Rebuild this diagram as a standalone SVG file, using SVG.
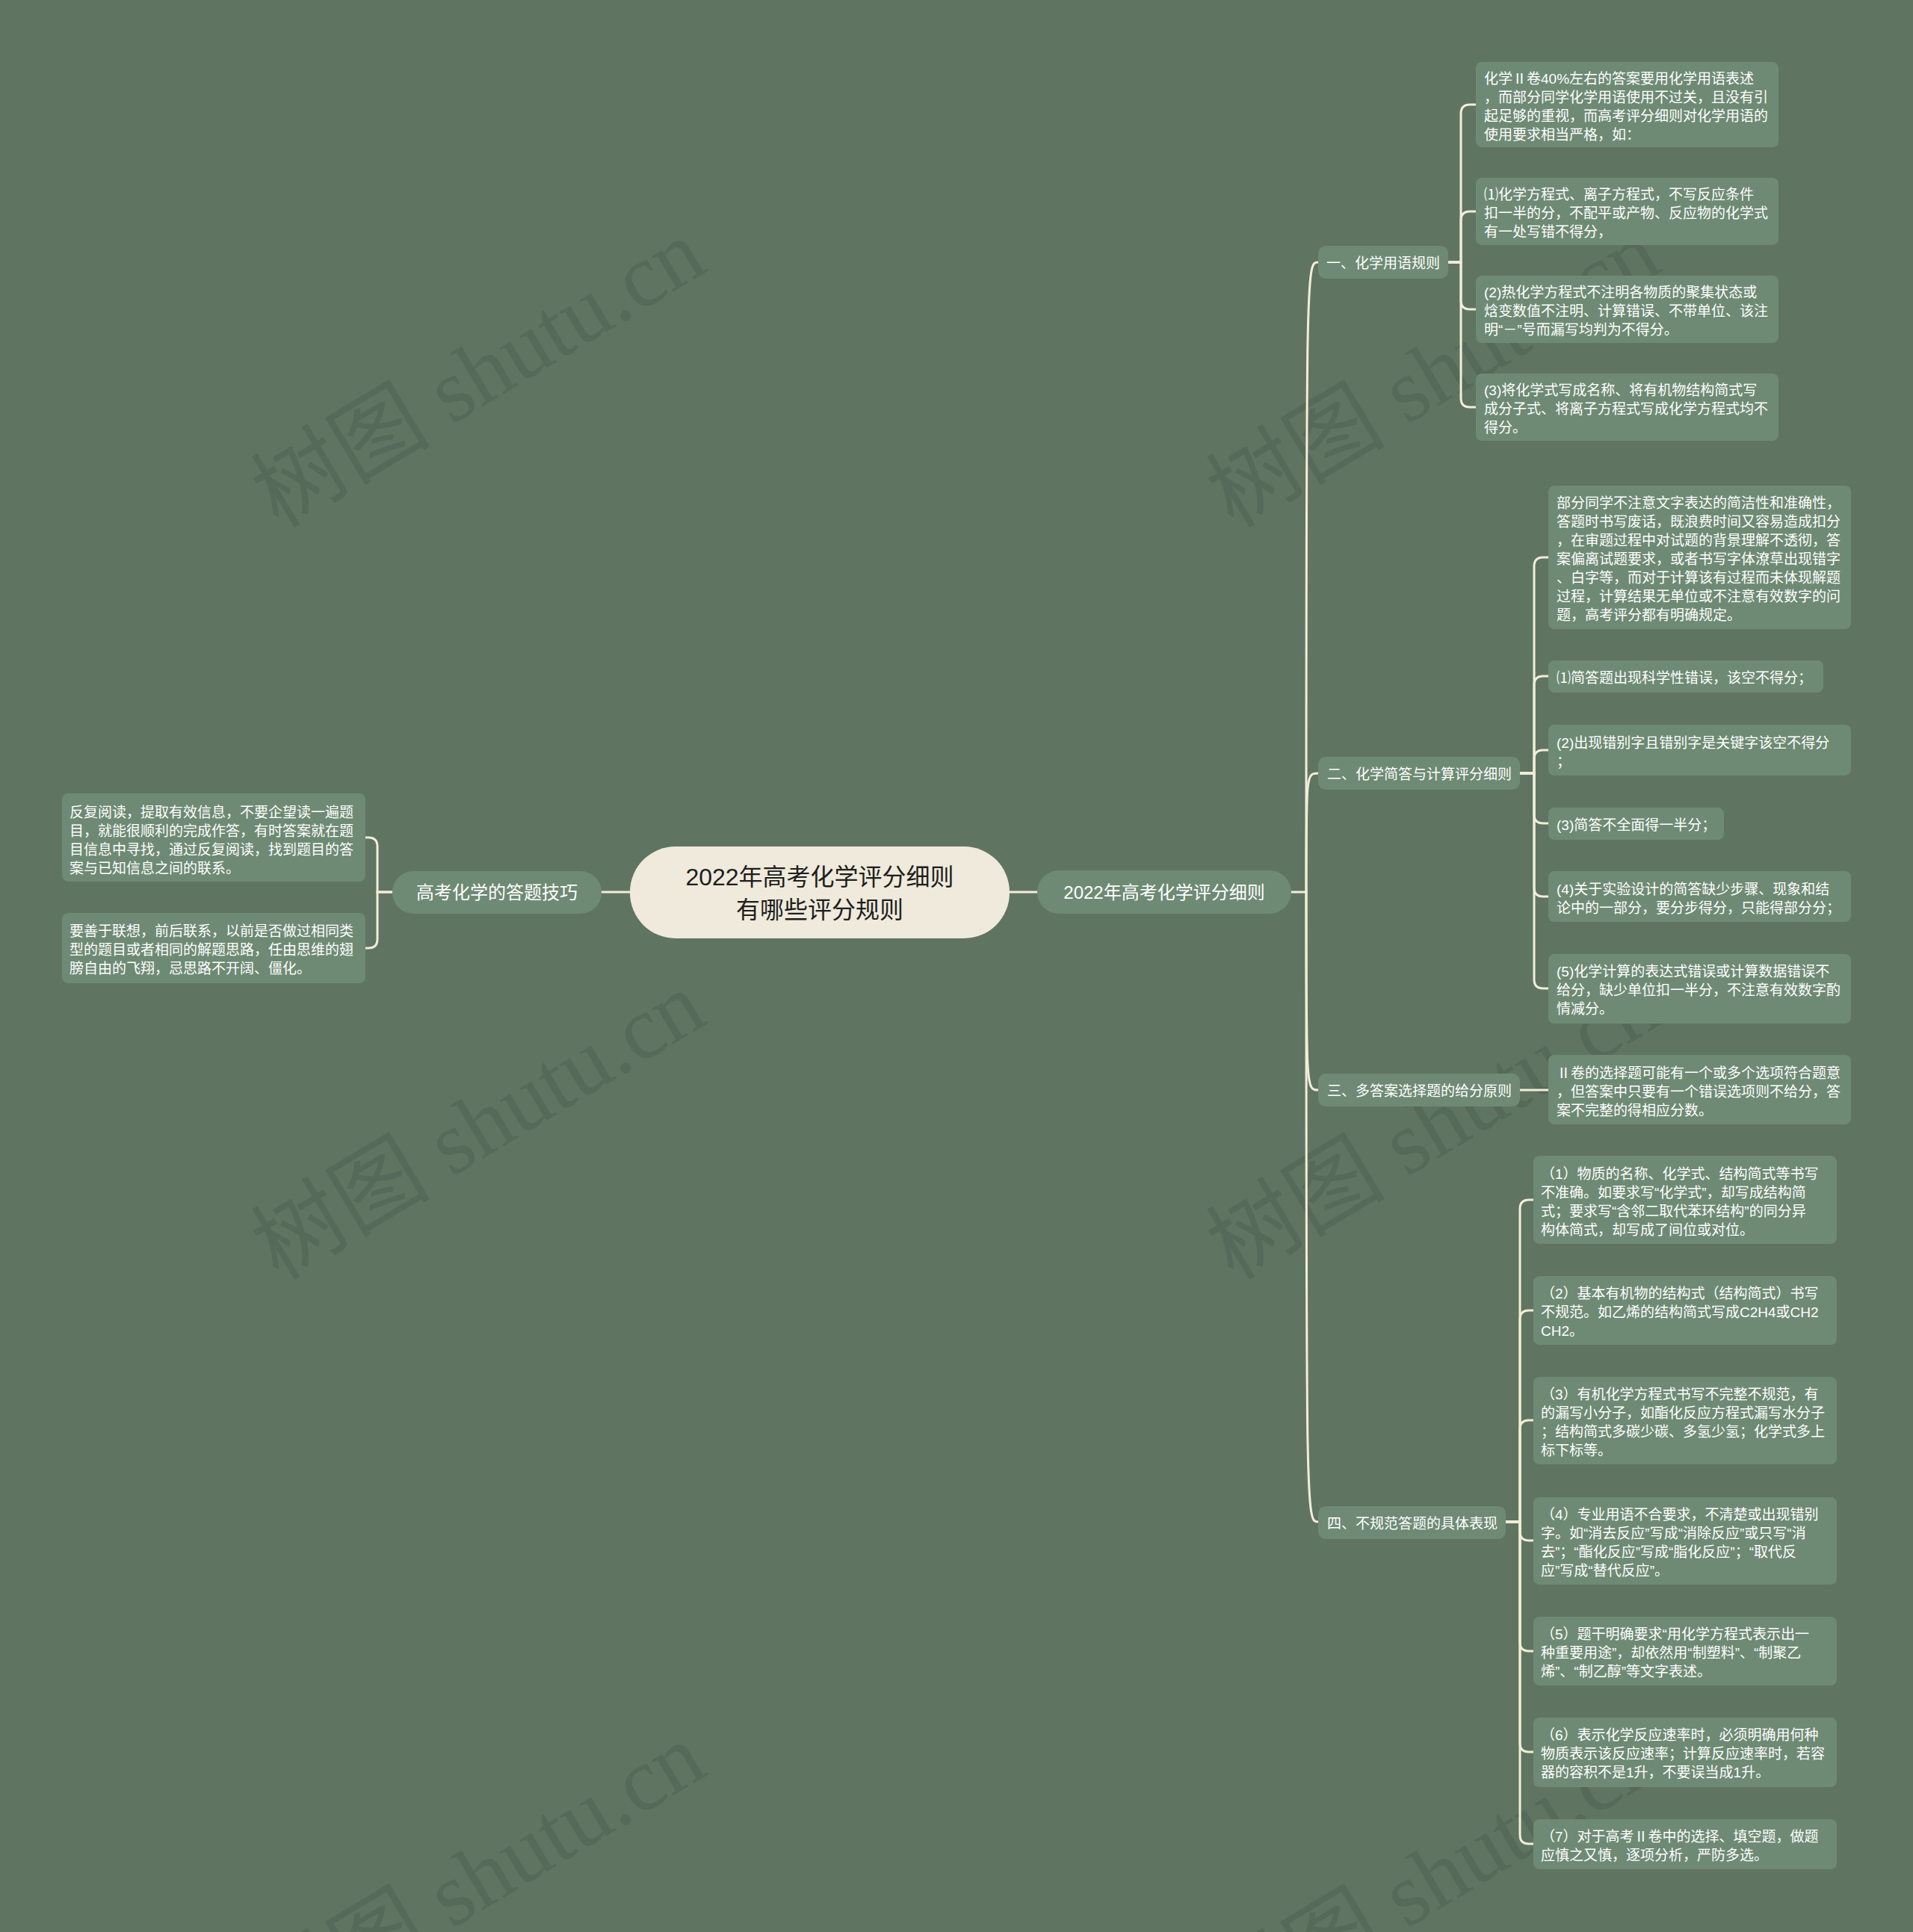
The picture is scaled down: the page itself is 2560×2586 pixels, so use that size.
<svg xmlns="http://www.w3.org/2000/svg" width="2560" height="2586" viewBox="0 0 2560 2586">
<style>
.bg{fill:#607462}
.wm{font-family:"Liberation Serif","Noto Sans CJK SC",serif;font-size:120px;fill:#566a59}
.box{fill:#6e8a74}
.t{font-family:"Liberation Sans","Noto Sans CJK SC",sans-serif;font-size:19px;fill:#ffffff}
.t2{font-family:"Liberation Sans","Noto Sans CJK SC",sans-serif;font-size:24px;fill:#ffffff}
.tc{font-family:"Liberation Sans","Noto Sans CJK SC",sans-serif;font-size:32px;fill:#1e1e1e}
.ln{fill:none;stroke:#f2edd8;stroke-width:3;stroke-linecap:round}
</style>
<rect class="bg" x="0" y="0" width="2560" height="2586"/>
<g id="watermarks">
<text class="wm" transform="translate(647,511) rotate(-31)" text-anchor="middle" dominant-baseline="middle">树图 shutu.cn</text>
<text class="wm" transform="translate(647,1518) rotate(-31)" text-anchor="middle" dominant-baseline="middle">树图 shutu.cn</text>
<text class="wm" transform="translate(647,2524) rotate(-31)" text-anchor="middle" dominant-baseline="middle">树图 shutu.cn</text>
<text class="wm" transform="translate(1925,511) rotate(-31)" text-anchor="middle" dominant-baseline="middle">树图 shutu.cn</text>
<text class="wm" transform="translate(1925,1518) rotate(-31)" text-anchor="middle" dominant-baseline="middle">树图 shutu.cn</text>
<text class="wm" transform="translate(1925,2524) rotate(-31)" text-anchor="middle" dominant-baseline="middle">树图 shutu.cn</text>
</g>
<g id="connectors">
<path class="ln" d="M843 1194 H805"/>
<path class="ln" d="M1351 1194 H1388"/>
<path class="ln" d="M1728 1194 H1748"/>
<path class="ln" d="M1748 1194 C1748 351 1748 351 1764 351"/>
<path class="ln" d="M1748 1194 C1748 1035 1748 1035 1764 1035"/>
<path class="ln" d="M1748 1194 C1748 1459 1748 1459 1764 1459"/>
<path class="ln" d="M1748 1194 C1748 2037 1748 2037 1764 2037"/>
<path class="ln" d="M525 1194 H505 V1133 Q505 1121 493 1121 H489"/>
<path class="ln" d="M525 1194 H505 V1257 Q505 1269 493 1269 H489"/>
<path class="ln" d="M1938 351 H1955 V152 Q1955 140 1967 140 H1975"/>
<path class="ln" d="M1938 351 H1955 V295 Q1955 283 1967 283 H1975"/>
<path class="ln" d="M1938 351 H1955 V402 Q1955 414 1967 414 H1975"/>
<path class="ln" d="M1938 351 H1955 V533 Q1955 545 1967 545 H1975"/>
<path class="ln" d="M2034 1035 H2053 V758 Q2053 746 2065 746 H2072"/>
<path class="ln" d="M2034 1035 H2053 V917 Q2053 905 2065 905 H2072"/>
<path class="ln" d="M2034 1035 H2053 V1016 Q2053 1004 2065 1004 H2072"/>
<path class="ln" d="M2034 1035 H2053 V1090 Q2053 1102 2065 1102 H2072"/>
<path class="ln" d="M2034 1035 H2053 V1188 Q2053 1200 2065 1200 H2072"/>
<path class="ln" d="M2034 1035 H2053 V1311 Q2053 1323 2065 1323 H2072"/>
<path class="ln" d="M2034 1459 H2072"/>
<path class="ln" d="M2015 2037 H2034 V1618 Q2034 1606 2046 1606 H2052"/>
<path class="ln" d="M2015 2037 H2034 V1766 Q2034 1754 2046 1754 H2052"/>
<path class="ln" d="M2015 2037 H2034 V1913 Q2034 1901 2046 1901 H2052"/>
<path class="ln" d="M2015 2037 H2034 V2050 Q2034 2062 2046 2062 H2052"/>
<path class="ln" d="M2015 2037 H2034 V2198 Q2034 2210 2046 2210 H2052"/>
<path class="ln" d="M2015 2037 H2034 V2333 Q2034 2345 2046 2345 H2052"/>
<path class="ln" d="M2015 2037 H2034 V2456 Q2034 2468 2046 2468 H2052"/>
</g>
<g id="root">
<rect x="843" y="1133" width="508" height="123" rx="61" fill="#efeadb"/>
<text class="tc" x="1097" y="1185" text-anchor="middle">2022年高考化学评分细则</text>
<text class="tc" x="1097" y="1229" text-anchor="middle">有哪些评分规则</text>
</g>
<g id="n-right">
<rect class="box" x="1388" y="1165" width="340" height="58" rx="29"/>
<text class="t2" x="1558" y="1203" text-anchor="middle">2022年高考化学评分细则</text>
</g>
<g id="n-left">
<rect class="box" x="525" y="1166" width="280" height="57" rx="28"/>
<text class="t2" x="665" y="1203" text-anchor="middle">高考化学的答题技巧</text>
</g>
<g id="n-left-1">
<rect class="box" x="83" y="1062" width="406" height="118" rx="8"/>
<text class="t" x="93" y="1093.5"><tspan x="93">反复阅读，提取有效信息，不要企望读一遍题</tspan><tspan x="93" dy="25">目，就能很顺利的完成作答，有时答案就在题</tspan><tspan x="93" dy="25">目信息中寻找，通过反复阅读，找到题目的答</tspan><tspan x="93" dy="25">案与已知信息之间的联系。</tspan></text>
</g>
<g id="n-left-2">
<rect class="box" x="83" y="1222" width="406" height="94" rx="8"/>
<text class="t" x="93" y="1253"><tspan x="93">要善于联想，前后联系，以前是否做过相同类</tspan><tspan x="93" dy="25">型的题目或者相同的解题思路，任由思维的翅</tspan><tspan x="93" dy="25">膀自由的飞翔，忌思路不开阔、僵化。</tspan></text>
</g>
<g id="n1">
<rect class="box" x="1764" y="329" width="174" height="44" rx="10"/>
<text class="t" x="1775" y="359">一、化学用语规则</text>
</g>
<g id="n1-0">
<rect class="box" x="1975" y="83" width="405" height="114" rx="8"/>
<text class="t" x="1986" y="111.5"><tspan x="1986">化学Ⅱ卷40%左右的答案要用化学用语表述</tspan><tspan x="1986" dy="25">，而部分同学化学用语使用不过关，且没有引</tspan><tspan x="1986" dy="25">起足够的重视，而高考评分细则对化学用语的</tspan><tspan x="1986" dy="25">使用要求相当严格，如：</tspan></text>
</g>
<g id="n1-1">
<rect class="box" x="1975" y="238" width="405" height="90" rx="8"/>
<text class="t" x="1986" y="267"><tspan x="1986">⑴化学方程式、离子方程式，不写反应条件</tspan><tspan x="1986" dy="25">扣一半的分，不配平或产物、反应物的化学式</tspan><tspan x="1986" dy="25">有一处写错不得分，</tspan></text>
</g>
<g id="n1-2">
<rect class="box" x="1975" y="369" width="405" height="90" rx="8"/>
<text class="t" x="1986" y="398"><tspan x="1986">(2)热化学方程式不注明各物质的聚集状态或</tspan><tspan x="1986" dy="25">焓变数值不注明、计算错误、不带单位、该注</tspan><tspan x="1986" dy="25">明“－”号而漏写均判为不得分。</tspan></text>
</g>
<g id="n1-3">
<rect class="box" x="1975" y="500" width="405" height="90" rx="8"/>
<text class="t" x="1986" y="529"><tspan x="1986">(3)将化学式写成名称、将有机物结构简式写</tspan><tspan x="1986" dy="25">成分子式、将离子方程式写成化学方程式均不</tspan><tspan x="1986" dy="25">得分。</tspan></text>
</g>
<g id="n2">
<rect class="box" x="1764" y="1013" width="270" height="44" rx="10"/>
<text class="t" x="1776" y="1043">二、化学简答与计算评分细则</text>
</g>
<g id="n2-0">
<rect class="box" x="2072" y="650" width="405" height="192" rx="8"/>
<text class="t" x="2083" y="680"><tspan x="2083">部分同学不注意文字表达的简洁性和准确性，</tspan><tspan x="2083" dy="25">答题时书写废话，既浪费时间又容易造成扣分</tspan><tspan x="2083" dy="25">，在审题过程中对试题的背景理解不透彻，答</tspan><tspan x="2083" dy="25">案偏离试题要求，或者书写字体潦草出现错字</tspan><tspan x="2083" dy="25">、白字等，而对于计算该有过程而未体现解题</tspan><tspan x="2083" dy="25">过程，计算结果无单位或不注意有效数字的问</tspan><tspan x="2083" dy="25">题，高考评分都有明确规定。</tspan></text>
</g>
<g id="n2-1">
<rect class="box" x="2072" y="884" width="368" height="43" rx="8"/>
<text class="t" x="2083" y="914">⑴简答题出现科学性错误，该空不得分；</text>
</g>
<g id="n2-2">
<rect class="box" x="2072" y="970" width="405" height="68" rx="8"/>
<text class="t" x="2083" y="1000.5"><tspan x="2083">(2)出现错别字且错别字是关键字该空不得分</tspan><tspan x="2083" dy="25">；</tspan></text>
</g>
<g id="n2-3">
<rect class="box" x="2072" y="1081" width="235" height="43" rx="8"/>
<text class="t" x="2083" y="1111">(3)简答不全面得一半分；</text>
</g>
<g id="n2-4">
<rect class="box" x="2072" y="1166" width="405" height="68" rx="8"/>
<text class="t" x="2083" y="1196.5"><tspan x="2083">(4)关于实验设计的简答缺少步骤、现象和结</tspan><tspan x="2083" dy="25">论中的一部分，要分步得分，只能得部分分；</tspan></text>
</g>
<g id="n2-5">
<rect class="box" x="2072" y="1277" width="405" height="93" rx="8"/>
<text class="t" x="2083" y="1307"><tspan x="2083">(5)化学计算的表达式错误或计算数据错误不</tspan><tspan x="2083" dy="25">给分，缺少单位扣一半分，不注意有效数字酌</tspan><tspan x="2083" dy="25">情减分。</tspan></text>
</g>
<g id="n3">
<rect class="box" x="1764" y="1437" width="270" height="44" rx="10"/>
<text class="t" x="1776" y="1467">三、多答案选择题的给分原则</text>
</g>
<g id="n3-0">
<rect class="box" x="2072" y="1412" width="405" height="93" rx="8"/>
<text class="t" x="2083" y="1443"><tspan x="2083">Ⅱ卷的选择题可能有一个或多个选项符合题意</tspan><tspan x="2083" dy="25">，但答案中只要有一个错误选项则不给分，答</tspan><tspan x="2083" dy="25">案不完整的得相应分数。</tspan></text>
</g>
<g id="n4">
<rect class="box" x="1764" y="2016" width="251" height="44" rx="10"/>
<text class="t" x="1776" y="2046">四、不规范答题的具体表现</text>
</g>
<g id="n4-1">
<rect class="box" x="2052" y="1547" width="406" height="118" rx="8"/>
<text class="t" x="2062" y="1577.5"><tspan x="2062">（1）物质的名称、化学式、结构简式等书写</tspan><tspan x="2062" dy="25">不准确。如要求写“化学式”，却写成结构简</tspan><tspan x="2062" dy="25">式；要求写“含邻二取代苯环结构”的同分异</tspan><tspan x="2062" dy="25">构体简式，却写成了间位或对位。</tspan></text>
</g>
<g id="n4-2">
<rect class="box" x="2052" y="1708" width="406" height="92" rx="8"/>
<text class="t" x="2062" y="1738"><tspan x="2062">（2）基本有机物的结构式（结构简式）书写</tspan><tspan x="2062" dy="25">不规范。如乙烯的结构简式写成C2H4或CH2</tspan><tspan x="2062" dy="25">CH2。</tspan></text>
</g>
<g id="n4-3">
<rect class="box" x="2052" y="1843" width="406" height="117" rx="8"/>
<text class="t" x="2062" y="1872.5"><tspan x="2062">（3）有机化学方程式书写不完整不规范，有</tspan><tspan x="2062" dy="25">的漏写小分子，如酯化反应方程式漏写水分子</tspan><tspan x="2062" dy="25">；结构简式多碳少碳、多氢少氢；化学式多上</tspan><tspan x="2062" dy="25">标下标等。</tspan></text>
</g>
<g id="n4-4">
<rect class="box" x="2052" y="2004" width="406" height="117" rx="8"/>
<text class="t" x="2062" y="2033.5"><tspan x="2062">（4）专业用语不合要求，不清楚或出现错别</tspan><tspan x="2062" dy="25">字。如“消去反应”写成“消除反应”或只写“消</tspan><tspan x="2062" dy="25">去”；“酯化反应”写成“脂化反应”；“取代反</tspan><tspan x="2062" dy="25">应”写成“替代反应”。</tspan></text>
</g>
<g id="n4-5">
<rect class="box" x="2052" y="2164" width="406" height="92" rx="8"/>
<text class="t" x="2062" y="2194"><tspan x="2062">（5）题干明确要求“用化学方程式表示出一</tspan><tspan x="2062" dy="25">种重要用途”，却依然用“制塑料”、“制聚乙</tspan><tspan x="2062" dy="25">烯”、“制乙醇”等文字表述。</tspan></text>
</g>
<g id="n4-6">
<rect class="box" x="2052" y="2299" width="406" height="93" rx="8"/>
<text class="t" x="2062" y="2329"><tspan x="2062">（6）表示化学反应速率时，必须明确用何种</tspan><tspan x="2062" dy="25">物质表示该反应速率；计算反应速率时，若容</tspan><tspan x="2062" dy="25">器的容积不是1升，不要误当成1升。</tspan></text>
</g>
<g id="n4-7">
<rect class="box" x="2052" y="2435" width="406" height="67" rx="8"/>
<text class="t" x="2062" y="2464.5"><tspan x="2062">（7）对于高考Ⅱ卷中的选择、填空题，做题</tspan><tspan x="2062" dy="25">应慎之又慎，逐项分析，严防多选。</tspan></text>
</g>
</svg>
